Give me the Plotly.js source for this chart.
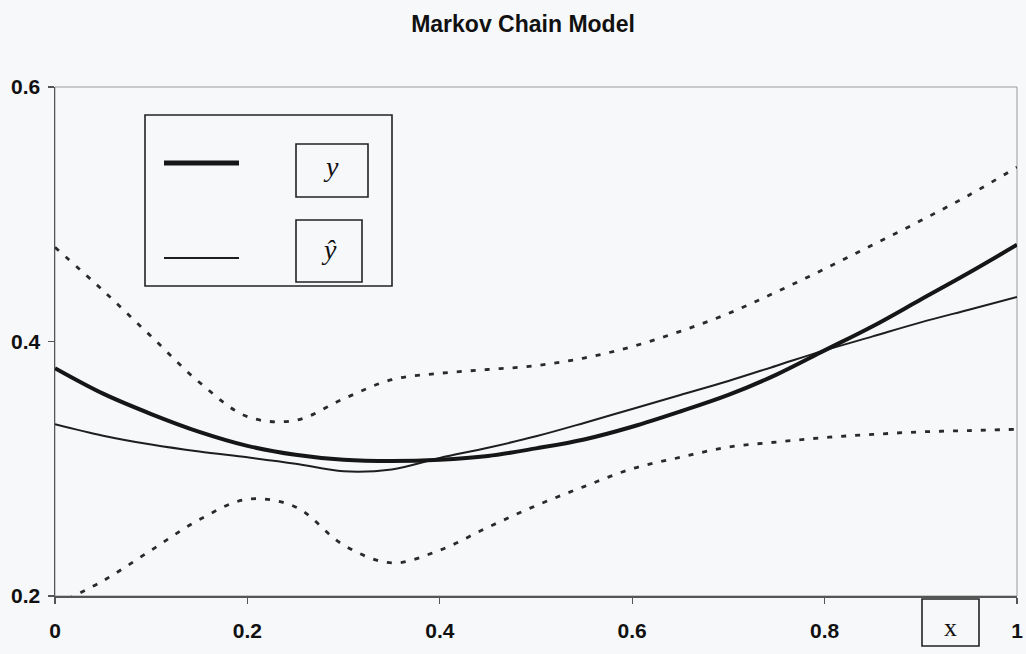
<!DOCTYPE html>
<html>
<head>
<meta charset="utf-8">
<script src="https://cdn.plot.ly/plotly-3.0.1.min.js"></script>
<style>
  html, body { margin: 0; padding: 0; background: #f7f8fa; }
  #chart { width: 1026px; height: 654px; }
</style>
</head>
<body>
<div id="chart"></div>
<script>
// ---- data ----
const xValues = [0, 0.05, 0.1, 0.15, 0.2, 0.25, 0.3, 0.35, 0.4, 0.45, 0.5,
                 0.55, 0.6, 0.65, 0.7, 0.75, 0.8, 0.85, 0.9, 0.95, 1.0];
const yActual = [0.379, 0.359, 0.343, 0.329, 0.318, 0.311, 0.307, 0.306, 0.307, 0.310, 0.316,
                 0.323, 0.333, 0.345, 0.358, 0.374, 0.393, 0.412, 0.433, 0.454, 0.476];
const yHat    = [0.335, 0.326, 0.319, 0.3135, 0.309, 0.304, 0.298, 0.2995, 0.3085, 0.3165, 0.3255,
                 0.336, 0.347, 0.358, 0.369, 0.381, 0.393, 0.404, 0.415, 0.425, 0.435];
const upperBand = [0.474, 0.440, 0.404, 0.368, 0.341, 0.338, 0.355, 0.370, 0.375, 0.378, 0.381,
                   0.387, 0.396, 0.408, 0.422, 0.439, 0.457, 0.476, 0.495, 0.515, 0.537];
const lowerBand = [0.193, 0.212, 0.236, 0.260, 0.276, 0.270, 0.240, 0.226, 0.236, 0.254, 0.271,
                   0.286, 0.300, 0.309, 0.317, 0.321, 0.3245, 0.327, 0.329, 0.330, 0.331];
const xTickVals = [0, 0.2, 0.4, 0.6, 0.8, 1];
const xTickText = ["0", "0.2", "0.4", "0.6", "0.8", "1"];
const yTickVals = [0.2, 0.4, 0.6];
const yTickText = ["0.2", "0.4", "0.6"];
const titleText = "Markov Chain Model";
const legendLabels = ["y", "ŷ"];
const xLabel = "x";

// ---- layout geometry (pixels) ----
const W = 1026, H = 654;
const M = { l: 55, r: 9, t: 87, b: 58 };
const PW = W - M.l - M.r, PH = H - M.t - M.b;
const px = v => (v - M.l) / PW;          // pixel -> paper x
const py = v => (H - M.b - v) / PH;      // pixel -> paper y

const ink = '#161616';
const dotted = { color: '#2a2a2a', width: 2.8, dash: '5px,9px' };

const traces = [
  { x: xValues, y: upperBand, mode: 'lines', line: Object.assign({ shape: 'spline', smoothing: 1 }, dotted), showlegend: false, hoverinfo: 'skip' },
  { x: xValues, y: lowerBand, mode: 'lines', line: Object.assign({ shape: 'spline', smoothing: 1 }, dotted), showlegend: false, hoverinfo: 'skip' },
  { x: xValues, y: yHat, mode: 'lines', name: legendLabels[1], line: { color: '#1e1e1e', width: 2, shape: 'spline', smoothing: 1 }, showlegend: false },
  { x: xValues, y: yActual, mode: 'lines', name: legendLabels[0], line: { color: ink, width: 4, shape: 'spline', smoothing: 1 }, showlegend: false }
];

const boxLine = { color: '#222', width: 1.6 };
const shapes = [
  { type: 'rect', xref: 'paper', yref: 'paper', x0: 0, x1: 1, y0: 0, y1: 1, line: { color: '#9a9a9a', width: 1 }, layer: 'below' },
  { type: 'rect', xref: 'paper', yref: 'paper', x0: px(145), x1: px(392), y0: py(286), y1: py(115), line: boxLine },
  { type: 'line', xref: 'paper', yref: 'paper', x0: px(164), x1: px(239), y0: py(163), y1: py(163), line: { color: ink, width: 5 } },
  { type: 'line', xref: 'paper', yref: 'paper', x0: px(164), x1: px(239), y0: py(258), y1: py(258), line: { color: '#1e1e1e', width: 2 } },
  { type: 'rect', xref: 'paper', yref: 'paper', x0: px(296), x1: px(368), y0: py(197), y1: py(144), line: boxLine },
  { type: 'rect', xref: 'paper', yref: 'paper', x0: px(296), x1: px(362), y0: py(282), y1: py(220), line: boxLine },
  { type: 'rect', xref: 'paper', yref: 'paper', x0: px(922), x1: px(979), y0: py(646), y1: py(599), line: boxLine }
];

const serif = '"Liberation Serif", "DejaVu Serif", serif';
const annotations = [
  { xref: 'paper', yref: 'paper', x: px(331), y: py(166), text: '<i>' + legendLabels[0] + '</i>', showarrow: false,
    font: { family: serif, size: 28, color: '#111' }, xanchor: 'center', yanchor: 'middle' },
  { xref: 'paper', yref: 'paper', x: px(329), y: py(249), text: '<i>' + legendLabels[1] + '</i>', showarrow: false,
    font: { family: serif, size: 28, color: '#111' }, xanchor: 'center', yanchor: 'middle' },
  { xref: 'paper', yref: 'paper', x: px(950), y: py(627), text: xLabel, showarrow: false,
    font: { family: serif, size: 26, color: '#111' }, xanchor: 'center', yanchor: 'middle' }
];

const axisFont = { family: '"Liberation Sans", Arial, sans-serif', size: 21, color: '#111', weight: 'bold' };

const layout = {
  width: W, height: H,
  margin: M,
  paper_bgcolor: '#f7f8fa',
  plot_bgcolor: '#f7f8fa',
  showlegend: false,
  title: { text: titleText, x: (523 - M.l) / PW, xref: 'paper', xanchor: 'center', y: 1 - 24 / H, yref: 'container', yanchor: 'middle',
           font: { family: '"Liberation Sans", Arial, sans-serif', size: 23, color: '#111', weight: 'bold' } },
  xaxis: {
    range: [0, 1], tickvals: xTickVals, ticktext: xTickText, tickfont: axisFont,
    showgrid: false, zeroline: false, showline: true, linecolor: '#555', linewidth: 1.5,
    ticks: 'outside', ticklen: 6, tickcolor: '#555', tickwidth: 1.2, ticklabelstandoff: 9,
    fixedrange: true
  },
  yaxis: {
    range: [0.2, 0.6], tickvals: yTickVals, ticktext: yTickText, tickfont: axisFont,
    showgrid: false, zeroline: false, showline: true, linecolor: '#555', linewidth: 1.5,
    ticks: 'outside', ticklen: 6, tickcolor: '#555', tickwidth: 1.2, ticklabelstandoff: 3,
    fixedrange: true
  },
  shapes: shapes,
  annotations: annotations
};

Plotly.newPlot('chart', traces, layout, { displayModeBar: false, staticPlot: true });
</script>
</body>
</html>
